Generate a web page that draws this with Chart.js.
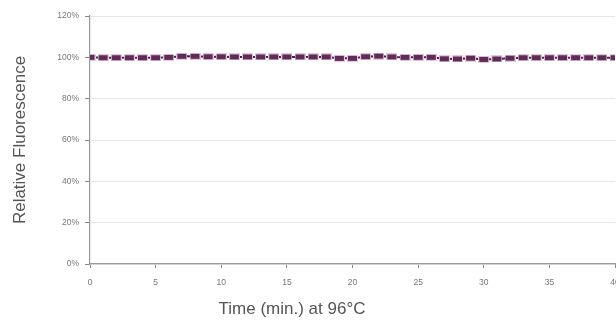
<!DOCTYPE html>
<html><head><meta charset="utf-8">
<script src="https://cdn.jsdelivr.net/npm/chart.js@4/dist/chart.umd.min.js"></script>
<style>
html,body{margin:0;padding:0;background:#fff;overflow:hidden;}
#wrap{position:relative;width:640px;height:323px;}
</style></head>
<body>
<div id="wrap"><canvas id="c"></canvas></div>
<script>
const times = [0,1,2,3,4,5,6,7,8,9,10,11,12,13,14,15,16,17,18,19,20,21,22,23,24,25,26,27,28,29,30,31,32,33,34,35,36,37,38,39,40];
const fluorescence = [100,99.8,99.8,99.8,99.8,99.8,100,100.5,100.5,100.3,100.3,100.2,100.2,100.2,100.2,100.2,100.2,100.2,100.2,99.5,99.5,100.3,100.6,100.2,100,100,100,99.3,99.2,99.6,99,99.2,99.6,99.8,99.8,99.8,99.8,99.8,99.8,99.8,99.8];
const xTicks = [0,5,10,15,20,25,30,35,40];
const yTicks = [0,20,40,60,80,100,120];
const xTitle = 'Time (min.) at 96°C';
const yTitle = 'Relative Fluorescence';

Chart.defaults.font.family = '"Liberation Sans", Arial, sans-serif';

// marker image: small wide rectangle
const mk = document.createElement('canvas');
mk.width = 11; mk.height = 7;
(function(){
  const c = mk.getContext('2d');
  c.fillStyle = '#e6c6de';
  c.fillRect(0,0,11,7);
  c.fillStyle = '#5e2c57';
  c.fillRect(1,1,9,5);
})();

const xTitlePlugin = {
  id: 'xTitlePlugin',
  afterDraw(chart) {
    const ctx = chart.ctx;
    ctx.save();
    ctx.font = '17px "Liberation Sans", Arial, sans-serif';
    ctx.fillStyle = '#555';
    ctx.textAlign = 'center';
    ctx.textBaseline = 'middle';
    ctx.fillText(xTitle, 292, 309);
    ctx.restore();
  }
};

new Chart(document.getElementById('c'), {
  type: 'line',
  data: {
    datasets: [{
      data: times.map((t,i)=>({x:t,y:fluorescence[i]})),
      borderColor: '#4a2444',
      borderWidth: 2,
      pointStyle: mk,
      pointRadius: 5,
      tension: 0
    }]
  },
  plugins: [xTitlePlugin],
  options: {
    responsive: true,
    maintainAspectRatio: false,
    animation: false,
    layout: {padding: {left: 6, right: 25, top: 16, bottom: 0}},
    plugins: {legend: {display: false}, tooltip: {enabled: false}},
    scales: {
      x: {
        type: 'linear', min: 0, max: 40,
        afterBuildTicks: s => { s.ticks = xTicks.map(v=>({value:v})); },
        afterFit: s => { s.height = 59; },
        ticks: {color: '#777', font: {size: 8.5}, padding: 10, maxRotation: 0},
        grid: {display: true, drawOnChartArea: false, drawTicks: true, tickLength: 4, color: '#888'},
        border: {color: '#999', width: 1.2},
        title: {display: false, text: xTitle}
      },
      y: {
        min: 0, max: 120,
        afterBuildTicks: s => { s.ticks = yTicks.map(v=>({value:v})); },
        afterFit: s => { s.width = 84; },
        ticks: {color: '#777', font: {size: 8.5}, padding: 6, callback: v => v + '%'},
        grid: {color: '#e6e6e6', tickLength: 5, tickColor: '#888', lineWidth: 1},
        border: {color: '#999', width: 1.2},
        title: {display: true, text: yTitle, color: '#555', font: {size: 17}, padding: {bottom: 4}}
      }
    }
  }
});
</script>
</body></html>
